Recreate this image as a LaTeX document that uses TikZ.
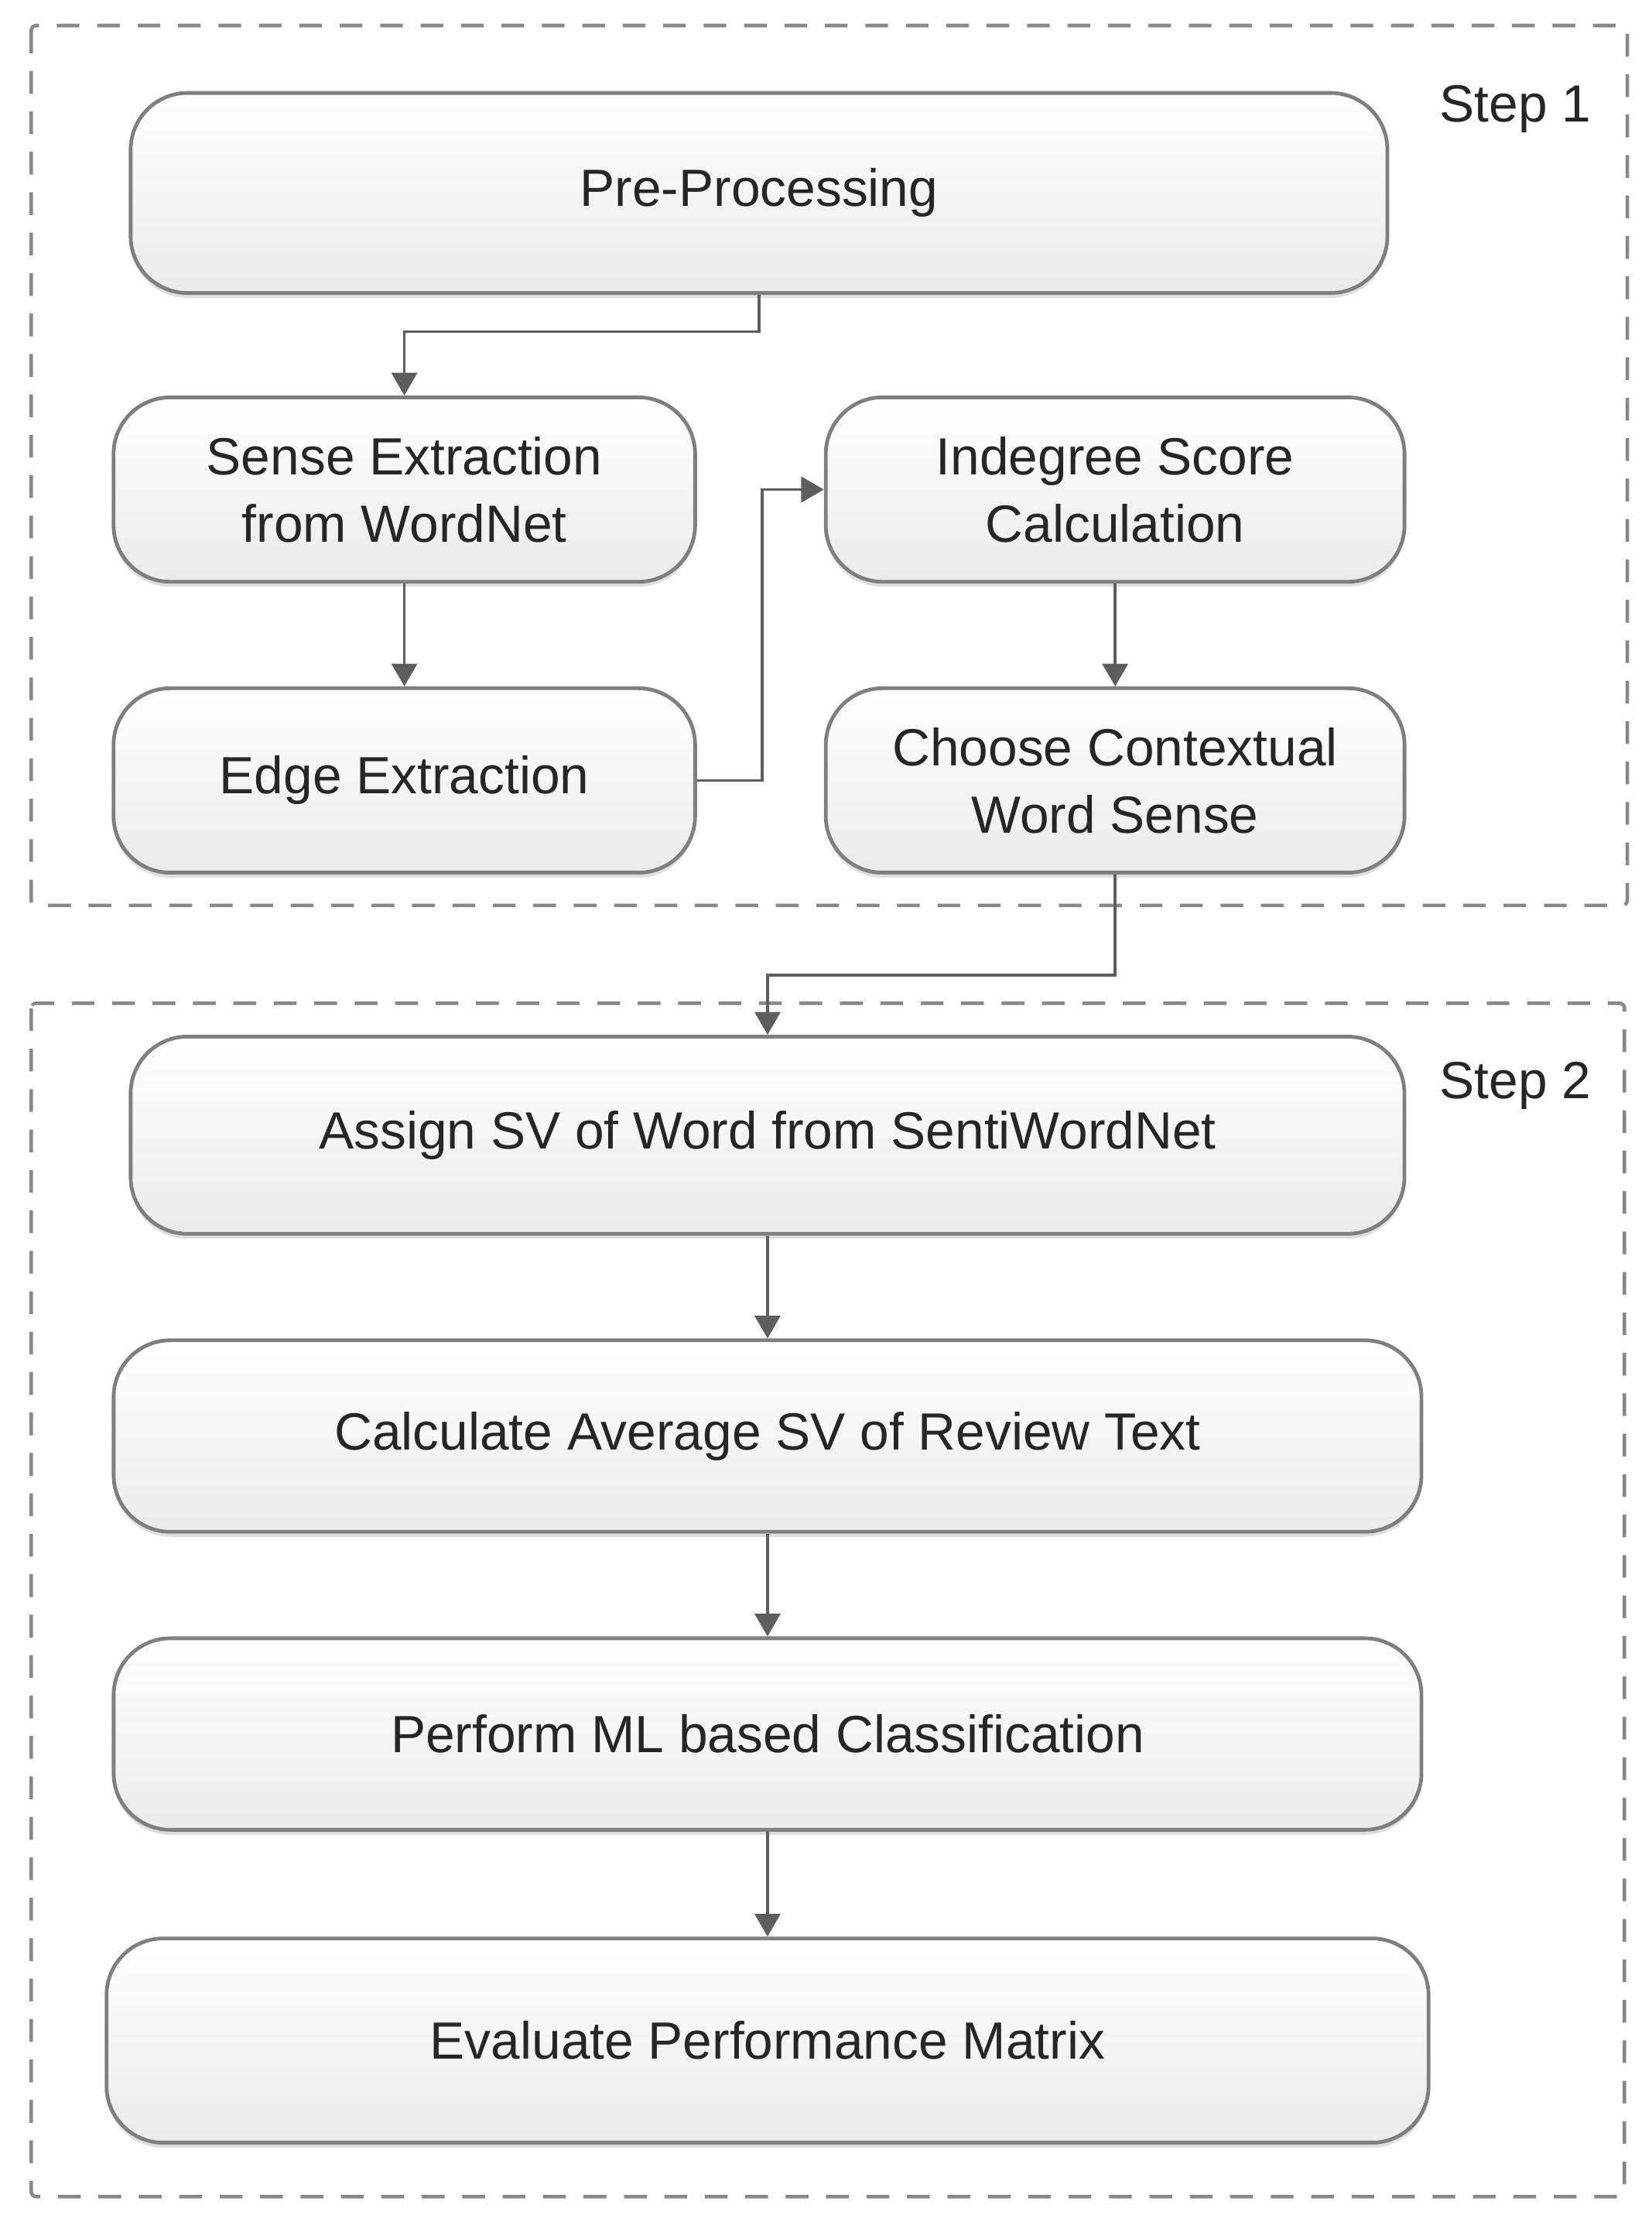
\documentclass[tikz,border=0pt]{standalone}
\usepackage{fontspec}
\setmainfont{Liberation Sans}
\usetikzlibrary{arrows.meta,shadows}
\definecolor{xamkhung}{HTML}{7F7F7F}
\definecolor{xammuiten}{HTML}{5E5E5E}
\definecolor{xamvien}{HTML}{888888}
\definecolor{chu}{HTML}{262626}
\tikzset{
  hop/.style={draw=xamkhung, line width=1.5pt, rounded corners=0.8cm,
    top color=white, bottom color=black!8,
    drop shadow={opacity=0.25, shadow xshift=0pt, shadow yshift=-2pt},
    align=center, text=chu, inner sep=0pt,
    font=\fontsize{21}{27}\selectfont},
  muiten/.style={draw=xammuiten, line width=1.1pt,
    -{Triangle[length=0.32cm,width=0.36cm]}},
  vien/.style={draw=xamvien, line width=1.4pt, rounded corners=2pt,
    dash pattern=on 0.32cm off 0.25cm},
  nhan/.style={text=chu, font=\fontsize{21}{27}\selectfont}
}
\begin{document}
\begin{tikzpicture}[x=0.02cm, y=-0.02cm]
  \useasboundingbox (0,0) rectangle (1164,1568);

  % Khung các bước
  \draw[vien] (22,18) rectangle (1147,638);
  \draw[vien] (22,707) rectangle (1145,1548);
  \node[nhan] (buoc1) at (1068,77) {Step 1};
  \node[nhan] (buoc2) at (1068,765) {Step 2};

  % Bước 1
  \node[hop, minimum width=17.72cm, minimum height=2.82cm] (tien) at (535,136) {Pre-Processing};
  \node[hop, minimum width=8.2cm, minimum height=2.6cm] (tach) at (285,345) {Sense Extraction\\from WordNet};
  \node[hop, minimum width=8.2cm, minimum height=2.6cm] (canh) at (285,550) {Edge Extraction};
  \node[hop, minimum width=8.16cm, minimum height=2.6cm] (indeg) at (786,345) {Indegree Score\\Calculation};
  \node[hop, minimum width=8.16cm, minimum height=2.6cm] (chon) at (786,550) {Choose Contextual\\Word Sense};

  % Bước 2
  \node[hop, minimum width=17.96cm, minimum height=2.78cm] (gan) at (541,800) {Assign SV of Word from SentiWordNet};
  \node[hop, minimum width=18.44cm, minimum height=2.7cm] (tinh) at (541,1012) {Calculate Average SV of Review Text};
  \node[hop, minimum width=18.44cm, minimum height=2.7cm] (phanloai) at (541,1222) {Perform ML based Classification};
  \node[hop, minimum width=18.64cm, minimum height=2.88cm] (danhgia) at (541,1438) {Evaluate Performance Matrix};

  % Mũi tên
  \draw[muiten] (tien.south) -- ++(0,26) -| (tach.north);
  \draw[muiten] (tach) -- (canh);
  \draw[muiten] (canh.east) -- ++(46,0) |- (indeg.west);
  \draw[muiten] (indeg) -- (chon);
  \draw[muiten] (chon.south) -- ++(0,71) -| (gan.north);
  \draw[muiten] (gan) -- (tinh);
  \draw[muiten] (tinh) -- (phanloai);
  \draw[muiten] (phanloai) -- (danhgia);
\end{tikzpicture}
\end{document}
